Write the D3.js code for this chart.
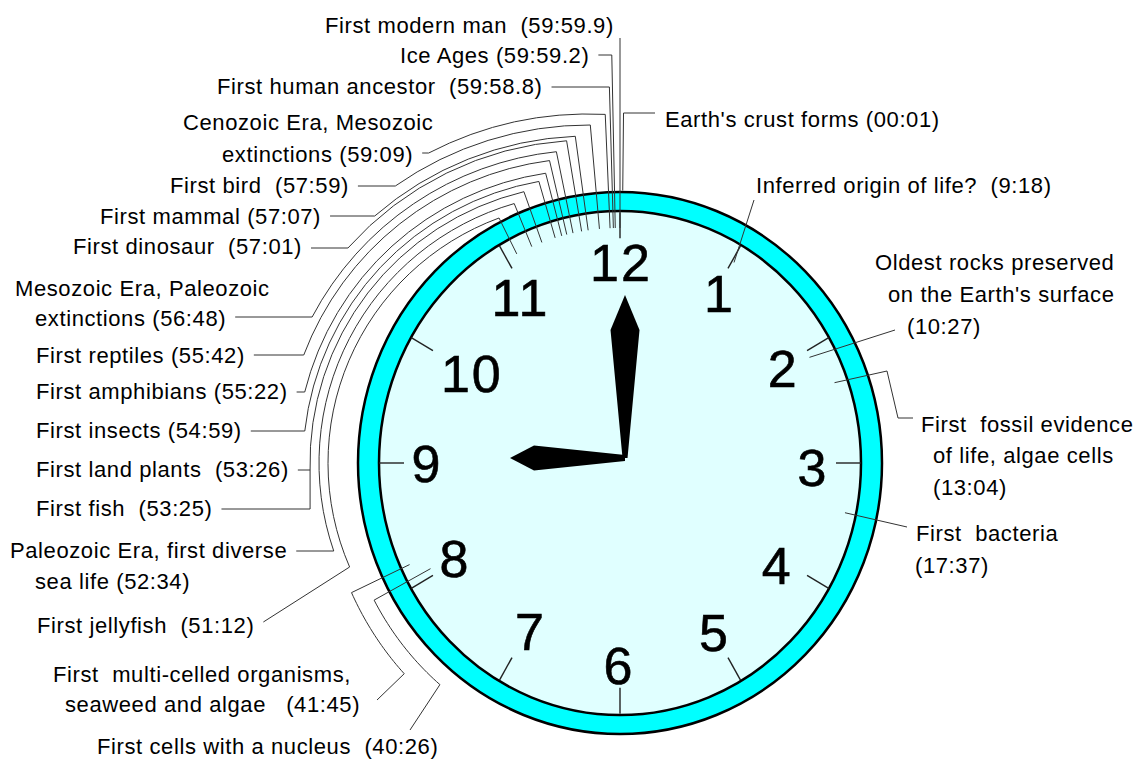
<!DOCTYPE html>
<html>
<head>
<meta charset="utf-8">
<script src="https://cdn.jsdelivr.net/npm/d3@7"></script>
<style>
  html, body { margin: 0; padding: 0; background: #ffffff; }
  text { font-family: "Liberation Sans", Arial, sans-serif; white-space: pre; }
</style>
</head>
<body>
<svg id="chart" width="1141" height="760"></svg>
<script>
// ---------------- DATA ----------------
// Clock numerals (hour labels)
const hourNumbers = [12, 1, 2, 3, 4, 5, 6, 7, 8, 9, 10, 11];

// Events: label text as printed (one entry per printed line)
const eventLabels = [
  ["Earth's crust forms (00:01)"],
  ["Inferred origin of life?  (9:18)"],
  ["Oldest rocks preserved", "on the Earth's surface", "(10:27)"],
  ["First  fossil evidence", "of life, algae cells", "(13:04)"],
  ["First  bacteria", "(17:37)"],
  ["First cells with a nucleus  (40:26)"],
  ["First  multi-celled organisms,", "seaweed and algae   (41:45)"],
  ["First jellyfish  (51:12)"],
  ["Paleozoic Era, first diverse", "sea life (52:34)"],
  ["First fish  (53:25)"],
  ["First land plants  (53:26)"],
  ["First insects (54:59)"],
  ["First amphibians (55:22)"],
  ["First reptiles (55:42)"],
  ["Mesozoic Era, Paleozoic", "extinctions (56:48)"],
  ["First dinosaur  (57:01)"],
  ["First mammal (57:07)"],
  ["First bird  (57:59)"],
  ["Cenozoic Era, Mesozoic", "extinctions (59:09)"],
  ["First human ancestor  (59:58.8)"],
  ["Ice Ages (59:59.2)"],
  ["First modern man  (59:59.9)"]
];

// Position of each event's tick on the dial, in minutes
const eventDialMinutes = [
  0.1, 5.1, 10.3, 11.7, 17.0,
  40.3, 40.85,
  55.47, 56.17, 56.63, 56.63, 57.22, 57.51, 57.73, 58.0, 58.37, 58.65, 59.13, 59.58,
  59.72, 59.8, 60
];

// Time shown by the hands: [hour, minute]
const handTime = [9, 0];

// ---------------- LAYOUT (positions only) ----------------
const W = 1141, H = 760;
const cx = 620, cy = 463, K = 1.04;          // dial centre and vertical stretch
const ringOuter = { rx: 262, ry: 271 };
const ringInner = { rx: 241, ry: 252 };
const numR = 193, tickOuter = 241, tickInner = 216, rTipDefault = 226;
const numNudge = [[1, 0], [3, 4], [-4, 6], [0, 4], [-10, 2], [-2, -5], [-1, 2], [7, -6], [2, -5], [0, 0], [19, 11], [-3, 8]];
const leadCx = cx - 31;                       // centre of the nested leader arcs (left side)
const gap = 9;
const FS = 22, NUMFS = 52;

// per event: text line positions [x, yCentre] and leader routing
const layout = [
  { lines: [[665, 119]], type: "topRight", y: 113, rEnd: 262 },
  { lines: [[756, 185]], type: "poly", rTip: 224, pts: [[754, 200]] },
  { lines: [[875, 262], [888, 294], [907, 326]], type: "poly", rTip: 215, pts: [[895, 330]] },
  { lines: [[921, 424], [933, 455], [933, 487]], type: "poly", rTip: 228, pts: [[887, 371], [898, 418], [913, 418]] },
  { lines: [[916, 533], [915, 565]], type: "poly", rTip: 230, pts: [[907, 527]] },
  { lines: [[97, 746]], type: "bottom", rTip: 215, rArc: 279, mEnd: 36.7, end: [410, 730] },
  { lines: [[53, 674], [65, 704]], type: "bottom", rTip: 232, rArc: 296, mEnd: 37.8, end: [377, 700] },
  { lines: [[37, 625]], type: "left", rho: 261, y: 622, startY: 567 },
  { lines: [[10, 550], [35, 581]], type: "left", rho: 270, y: 551, fromLine: 0 },
  { lines: [[36, 508]], type: "join", y: 509, target: 10 },
  { lines: [[36, 469]], type: "left", rho: 279, y: 470 },
  { lines: [[36, 430]], type: "left", rho: 286, y: 431 },
  { lines: [[36, 391]], type: "left", rho: 293, y: 392 },
  { lines: [[36, 355]], type: "left", rho: 305, y: 355 },
  { lines: [[15, 288], [35, 318]], type: "left", rho: 313, y: 317, fromLine: 1 },
  { lines: [[73, 246]], type: "left", rho: 323, y: 248 },
  { lines: [[100, 216]], type: "left", rho: 327, y: 216 },
  { lines: [[170, 185]], type: "left", rho: 338, y: 186 },
  { lines: [[183, 122], [222, 154]], type: "left", rho: 349, y: 153, fromLine: 1 },
  { lines: [[217, 86]], type: "top", y: 87 },
  { lines: [[400, 55]], type: "top", y: 55 },
  { lines: [[325, 25]], type: "vertical", y: 38 }
];

// ---------------- DRAW ----------------
const svg = d3.select("#chart");
const angle = d3.scaleLinear().domain([0, 60]).range([0, 2 * Math.PI]);
function dial(m, r) {
  const a = angle(m);
  return [cx + r * Math.sin(a), cy - r * K * Math.cos(a)];
}

// clock ring and face
svg.append("ellipse").attr("cx", cx).attr("cy", cy)
  .attr("rx", ringOuter.rx).attr("ry", ringOuter.ry)
  .attr("fill", "#00ffff").attr("stroke", "#000").attr("stroke-width", 2.5);
svg.append("ellipse").attr("cx", cx).attr("cy", cy)
  .attr("rx", ringInner.rx).attr("ry", ringInner.ry)
  .attr("fill", "#e0ffff").attr("stroke", "#000").attr("stroke-width", 2.5);

// hour ticks
svg.append("g").selectAll("line").data(hourNumbers).join("line")
  .each(function (h, i) {
    const p0 = dial(i * 5, tickOuter), p1 = dial(i * 5, tickInner);
    d3.select(this).attr("x1", p0[0]).attr("y1", p0[1]).attr("x2", p1[0]).attr("y2", p1[1]);
  })
  .attr("stroke", "#222").attr("stroke-width", 1.4);

// labels
const labelG = svg.append("g");
const textEnds = [];   // per event, per line: [xStart, xEnd]
eventLabels.forEach((lines, i) => {
  textEnds[i] = lines.map((s, j) => {
    const pos = layout[i].lines[j];
    const t = labelG.append("text")
      .attr("x", pos[0]).attr("y", pos[1] + 0.36 * FS)
      .attr("font-size", FS).attr("letter-spacing", "0.6px")
      .attr("fill", "#000").text(s);
    const bb = t.node().getBBox();
    return [bb.x, bb.x + bb.width];
  });
});

// leaders
const leaderG = svg.append("g").attr("fill", "none").attr("stroke", "#333").attr("stroke-width", 1);
const leftStarts = {};
function leftGeometry(i) {
  const L = layout[i];
  const m = eventDialMinutes[i];
  const a = angle(m), s = Math.sin(a), c = Math.cos(a);
  const off = cx - leadCx;
  const A = s * s + K * K * c * c, B = 2 * off * s, C = off * off - L.rho * L.rho;
  const r = (-B + Math.sqrt(B * B - 4 * A * C)) / (2 * A);
  const corner = dial(m, r);
  const sy = L.startY !== undefined ? L.startY : L.y;
  const sx = leadCx - Math.sqrt(L.rho * L.rho - (sy - cy) * (sy - cy));
  return { corner, sx, sy };
}
const order = d3.range(eventLabels.length);
order.forEach(i => {
  const L = layout[i];
  const m = eventDialMinutes[i];
  const p = d3.path();
  const lineIdx = L.fromLine !== undefined ? L.fromLine : 0;
  const tEnd = textEnds[i][lineIdx][1];
  if (L.type === "left") {
    const g = leftGeometry(i);
    leftStarts[i] = [g.sx, g.sy];
    let psiS = Math.atan2(g.sy - cy, g.sx - leadCx);
    let psiC = Math.atan2(g.corner[1] - cy, g.corner[0] - leadCx);
    if (psiS < Math.PI / 2) psiS += 2 * Math.PI;
    if (psiC < Math.PI / 2) psiC += 2 * Math.PI;
    p.moveTo(tEnd + gap, L.y);
    p.lineTo(g.sx, g.sy);
    p.arc(leadCx, cy, L.rho, psiS, psiC, false);
    const tip = dial(m, rTipDefault);
    p.lineTo(tip[0], tip[1]);
  } else if (L.type === "top" || L.type === "vertical" || L.type === "topRight") {
    const a = angle(m);
    const r = (cy - L.y) / (K * Math.cos(a));
    const corner = dial(m, r);
    if (L.type === "top") { p.moveTo(tEnd + gap, L.y); p.lineTo(corner[0], corner[1]); }
    else if (L.type === "topRight") { p.moveTo(textEnds[i][0][0] - gap - 1, L.y); p.lineTo(corner[0], corner[1]); }
    else { p.moveTo(corner[0], corner[1]); }
    const tip = dial(m, L.rEnd || rTipDefault);
    p.lineTo(tip[0], tip[1]);
  } else if (L.type === "poly") {
    const tip = dial(m, L.rTip);
    p.moveTo(tip[0], tip[1]);
    L.pts.forEach(q => p.lineTo(q[0], q[1]));
  } else if (L.type === "bottom") {
    const tip = dial(m, L.rTip);
    p.moveTo(tip[0], tip[1]);
    const n = 24;
    for (let j = 0; j <= n; j++) {
      const mm = m + (L.mEnd - m) * j / n;
      const q = dial(mm, L.rArc);
      p.lineTo(q[0], q[1]);
    }
    p.lineTo(L.end[0], L.end[1]);
  }
  if (L.type !== "join") leaderG.append("path").attr("d", p.toString());
});
// joined leader (First fish shares the First land plants leader)
order.filter(i => layout[i].type === "join").forEach(i => {
  const L = layout[i];
  const st = leftStarts[L.target];
  const tEnd = textEnds[i][0][1];
  const p = d3.path();
  p.moveTo(tEnd + gap, L.y);
  p.lineTo(st[0], L.y);
  p.lineTo(st[0], st[1]);
  leaderG.append("path").attr("d", p.toString());
});

// numerals
svg.append("g").selectAll("text").data(hourNumbers).join("text")
  .attr("x", (h, i) => dial(i * 5, numR)[0] + numNudge[i][0])
  .attr("y", (h, i) => dial(i * 5, numR)[1] + numNudge[i][1] + 0.36 * NUMFS)
  .attr("text-anchor", "middle").attr("font-size", NUMFS).attr("fill", "#000")
  .attr("letter-spacing", "2px")
  .attr("stroke", "#000").attr("stroke-width", 0.6)
  .text(d => d);

// hands
const pivot = [625, 458];
function handPath(aRad, shape) {
  const ux = Math.sin(aRad), uy = -Math.cos(aRad);
  const vx = -uy, vy = ux;
  return d3.line()(shape.map(([u, v]) => [pivot[0] + u * ux + v * vx, pivot[1] + u * uy + v * vy])) + "Z";
}
const minuteShape = [[0, -2.5], [128, -14.5], [163, 0], [128, 14.5], [0, 2.5]];
const hourShape = [[0, -3], [91, -12.5], [115, 0], [91, 12.5], [0, 3]];
svg.append("path").attr("d", handPath(angle(handTime[1]), minuteShape)).attr("fill", "#000");
svg.append("path").attr("d", handPath(angle(handTime[0] * 5), hourShape)).attr("fill", "#000");
</script>
</body>
</html>
